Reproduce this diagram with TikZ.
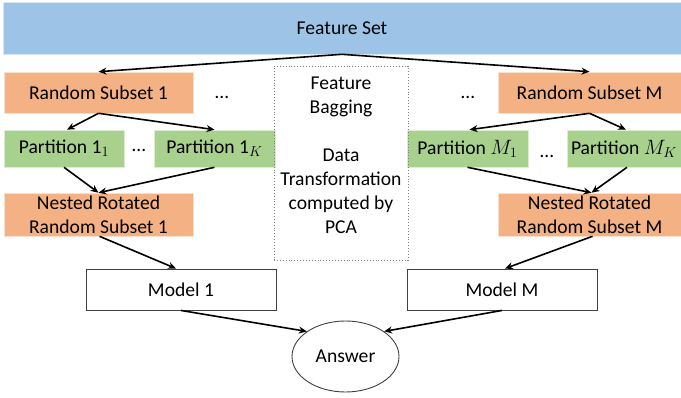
\documentclass[tikz,border=0pt]{standalone}
\usepackage{fontspec}
\setmainfont{Carlito}
\usetikzlibrary{arrows.meta,shapes.geometric}
\definecolor{fsblue}{RGB}{157,195,230}
\definecolor{rsorange}{RGB}{244,177,131}
\definecolor{ptgreen}{RGB}{169,209,142}
\definecolor{boxgray}{RGB}{64,64,64}
\tikzset{
  txt/.style={font=\fontsize{19.6}{24}\selectfont, align=center, inner sep=0pt, text=black},
  fsbox/.style={txt, fill=fsblue, draw=white!60!fsblue, line width=0.6pt},
  rsbox/.style={txt, fill=rsorange, draw=white!60!rsorange, line width=0.6pt},
  ptbox/.style={txt, fill=ptgreen, draw=white!60!ptgreen, line width=0.6pt},
  mdbox/.style={txt, draw=boxgray, line width=0.9pt, fill=white},
  ansnode/.style={txt, ellipse, draw=boxgray, line width=0.9pt},
  pcabox/.style={draw=gray, dotted, line width=0.9pt, inner sep=0pt},
  dotsnode/.style={font=\fontsize{19.6}{24}\selectfont, inner sep=0pt},
  arr/.style={-{Stealth[length=8pt,width=7pt]}, line width=1.6pt, black},
}
\begin{document}
\begin{tikzpicture}[x=1pt,y=-1pt]
\useasboundingbox (0,0) rectangle (681,397);
% top
\node[fsbox, minimum width=678pt, minimum height=52pt] (FS) at (342,28) {Feature Set};
% random subsets
\node[rsbox, minimum width=189pt, minimum height=41pt] (RS1) at (98.5,92.5) {Random Subset 1};
\node[rsbox, minimum width=183pt, minimum height=41pt] (RSM) at (589.5,92.5) {Random Subset M};
\node[dotsnode] (d1) at (222,97) {…};
\node[dotsnode] (d2) at (468,97) {…};
% partitions
\node[ptbox, minimum width=120pt, minimum height=37pt] (P11) at (64,148.5) {Partition 1$_1$};
\node[ptbox, minimum width=121pt, minimum height=37pt] (P1K) at (214.5,148.5) {Partition 1$_K$};
\node[ptbox, minimum width=121pt, minimum height=37pt] (PM1) at (467.5,148.5) {Partition $M_1$};
\node[ptbox, minimum width=114pt, minimum height=37pt] (PMK) at (624,148.5) {Partition $M_K$};
\node[dotsnode] (d3) at (139,150) {…};
\node[dotsnode] (d4) at (547,156) {…};
% nested
\node[rsbox, minimum width=189pt, minimum height=43pt] (N1) at (98.5,214.5) {Nested Rotated\\Random Subset 1};
\node[rsbox, minimum width=183pt, minimum height=43pt] (NM) at (589.5,214.5) {Nested Rotated\\Random Subset M};
% models
\node[mdbox, minimum width=190pt, minimum height=41pt] (M1) at (181,289.5) {Model 1};
\node[mdbox, minimum width=190pt, minimum height=41pt] (MM) at (502,289.5) {Model M};
% answer
\node[ansnode, minimum width=107pt, minimum height=71pt] (Ans) at (345.5,356.5) {Answer};
% dotted box
\node[pcabox, minimum width=134pt, minimum height=194pt] (PCA) at (341,163) {};
\node[txt] (PCAtxt) at (341,155) {Feature\\Bagging\\[24pt]Data\\Transformation\\computed by\\PCA};
% arrows
\draw[arr] (FS.south) -- (RS1.north);
\draw[arr] (FS.south) -- (RSM.north);
\draw[arr] (RS1.south) -- ([xshift=3pt]P11.north);
\draw[arr] (RS1.south) -- (P1K.north);
\draw[arr] (P11.south) -- (N1.north);
\draw[arr] (P1K.south) -- (N1.north);
\draw[arr] ([xshift=1pt]N1.south) -- ([xshift=-5pt]M1.north);
\draw[arr] (M1.south) -- (Ans.147);
\draw[arr] (RSM.south) -- ([xshift=2pt]PM1.north);
\draw[arr] (RSM.south) -- ([xshift=2pt]PMK.north);
\draw[arr] (PM1.south) -- ([xshift=2pt]NM.north);
\draw[arr] ([xshift=3pt]PMK.south) -- ([xshift=2pt]NM.north);
\draw[arr] ([xshift=3pt]NM.south) -- ([xshift=3pt]MM.north);
\draw[arr] (MM.south) -- (Ans.33);
\end{tikzpicture}
\end{document}
